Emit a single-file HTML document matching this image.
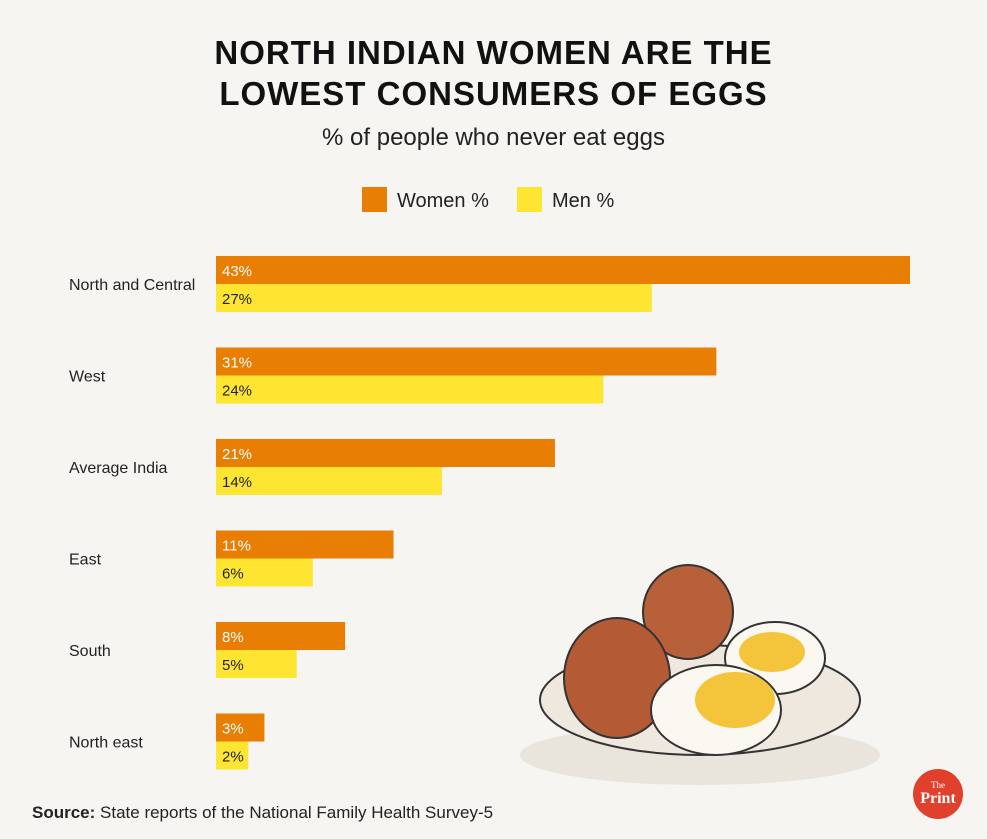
<!DOCTYPE html>
<html><head><meta charset="utf-8"><style>
body{margin:0;width:987px;height:839px;background:#f6f5f2;font-family:"Liberation Sans",sans-serif;position:relative;overflow:hidden}
.t{position:absolute;left:0;width:987px;text-align:center}
</style></head><body>
<div class="t" style="top:32px;font-size:33px;font-weight:900;line-height:41px;color:#111;letter-spacing:1px">NORTH INDIAN WOMEN ARE THE<br>LOWEST CONSUMERS OF EGGS</div>
<div class="t" style="top:124px;font-size:24px;color:#222">% of people who never eat eggs</div>
<svg id="c" width="987" height="839" style="position:absolute;left:0;top:0">
<g>
<rect x="362" y="187" width="25" height="25" fill="#e87e04"/>
<text x="397" y="207" font-size="20" fill="#222">Women %</text>
<rect x="517" y="187" width="25" height="25" fill="#fde532"/>
<text x="552" y="207" font-size="20" fill="#222">Men %</text>
</g>
<g id="bars"></g>
<g>
<ellipse cx="700" cy="755" rx="180" ry="30" fill="#e9e4dc"/>
<ellipse cx="700" cy="700" rx="160" ry="55" fill="#efe8df" stroke="#333" stroke-width="2"/>
<ellipse cx="688" cy="612" rx="45" ry="47" fill="#b8603a" stroke="#333" stroke-width="2"/>
<ellipse cx="617" cy="678" rx="53" ry="60" fill="#b45a35" stroke="#333" stroke-width="2"/>
<ellipse cx="775" cy="658" rx="50" ry="36" fill="#fbf8f2" stroke="#333" stroke-width="2"/>
<ellipse cx="772" cy="652" rx="33" ry="20" fill="#f4c43a"/>
<ellipse cx="716" cy="710" rx="65" ry="45" fill="#fbf8f2" stroke="#333" stroke-width="2"/>
<ellipse cx="735" cy="700" rx="40" ry="28" fill="#f4c43a"/>
</g>
<g>
<circle cx="938" cy="794" r="25" fill="#e0402c"/>
<text x="938" y="788" font-size="9" fill="#fff" text-anchor="middle" font-family="Liberation Serif">The</text>
<text x="938" y="803" font-size="16" font-weight="bold" fill="#fff" text-anchor="middle" font-family="Liberation Serif">Print</text>
</g>
</svg>
<div style="position:absolute;left:32px;top:803px;font-size:17px;color:#222"><b>Source:</b> State reports of the National Family Health Survey-5</div>
<script>
const categories=["North and Central","West","Average India","East","South","North east"];
const women=[43,31,21,11,8,3];
const men=[27,24,14,6,5,2];
const x0=216,pxPer=16.14,top0=256,step=91.5,bh=28;
const xs=v=>v*pxPer;
const g=document.getElementById('bars');
const NS="http://www.w3.org/2000/svg";
function mk(t,a){const e=document.createElementNS(NS,t);for(const k in a)e.setAttribute(k,a[k]);return e;}
categories.forEach((c,i)=>{
 const y=top0+i*step;
 const lab=mk('text',{x:69,y:y+bh+6,'font-size':16,fill:'#222'});lab.textContent=c;
 
 
 g.appendChild(lab);
 [[women[i],'#e87e04','#fff','bar-women'],[men[i],'#fde532','#222','bar-men']].forEach(([v,col,tc,n],j)=>{
  const r=mk('rect',{x:x0,y:y+j*bh,width:xs(v),height:bh,fill:col});
  
  
  g.appendChild(r);
  const t=mk('text',{x:x0+6,y:y+j*bh+20,'font-size':15,fill:tc});t.textContent=v+'%';
  
  
  g.appendChild(t);
 });
});
</script>
</body></html>
